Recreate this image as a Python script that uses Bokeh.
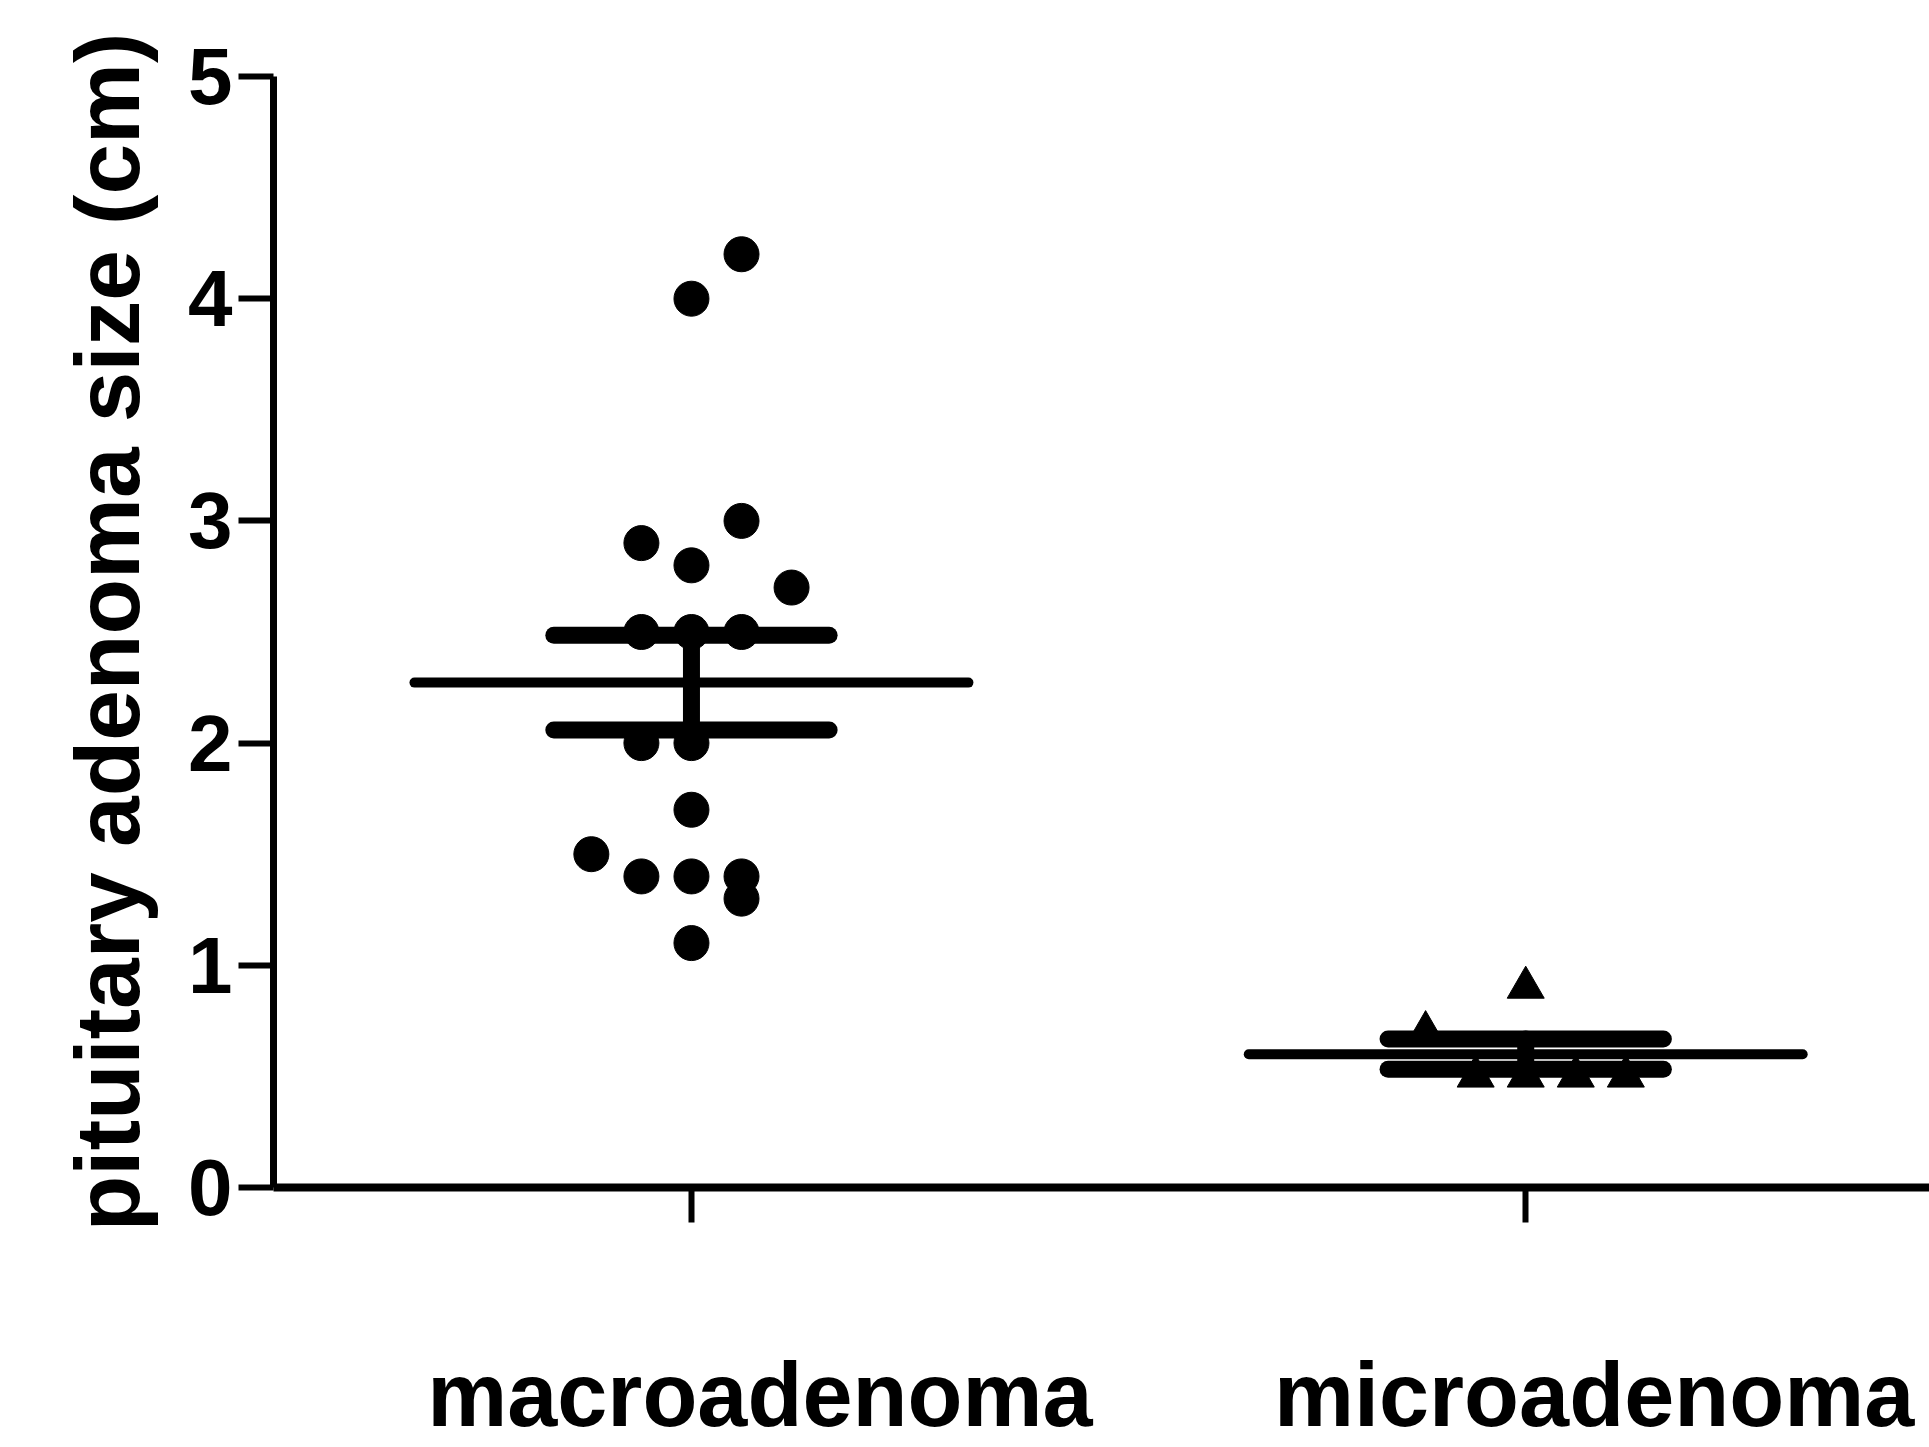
import numpy as np
from bokeh.plotting import figure
from bokeh.models import Range1d, FixedTicker, LinearAxis
from bokeh.embed import file_html
from bokeh.resources import INLINE

# ---- data ----
categories = ["macroadenoma", "microadenoma"]
macro_sizes = [4.2, 4.0, 3.0, 2.9, 2.8, 2.7, 2.5, 2.5, 2.5, 2.0, 2.0, 1.7,
               1.5, 1.4, 1.4, 1.4, 1.3, 1.1]
micro_sizes = [0.9, 0.7, 0.5, 0.5, 0.5, 0.5]
y_ticks = [0, 1, 2, 3, 4, 5]
y_label = "pituitary adenoma size (cm)"

# ---- layout: column slot of each dot in the column scatter ----
macro_slots = [1, 0, 1, -1, 0, 2, -1, 0, 1, -1, 0, 0, -2, -1, 0, 1, 1, 0]
micro_slots = [0, -2, -1, 0, 1, 2]
SLOT_STEP = 0.06
MEAN_HALF = 0.332
CAP_HALF = 0.165
LABEL_DX = 0.082
X0, X1 = -0.501, 1.484
FONT = "Liberation Sans"

p = figure(width=1929, height=1447,
           x_range=Range1d(X0, X1), y_range=Range1d(0, 5),
           output_backend="svg", toolbar_location=None,
           min_border_left=273, min_border_right=0,
           min_border_top=76, min_border_bottom=260)
p.outline_line_color = None
p.grid.visible = False
p.background_fill_color = "white"
p.border_fill_color = "white"

# y axis
ya = p.yaxis[0]
ya.ticker = FixedTicker(ticks=y_ticks)
ya.axis_line_width = 7
ya.axis_line_color = "black"
ya.major_tick_line_width = 6
ya.major_tick_line_color = "black"
ya.major_tick_out = 35
ya.major_tick_in = 0
ya.minor_tick_line_color = None
ya.major_label_standoff = 6
ya.major_label_text_font = FONT
ya.major_label_text_font_style = "bold"
ya.major_label_text_font_size = "80px"
ya.major_label_text_color = "black"
ya.axis_label = y_label
ya.axis_label_text_font = FONT
ya.axis_label_text_font_style = "bold"
ya.axis_label_text_font_size = "91px"
ya.axis_label_text_color = "black"
ya.axis_label_standoff = 27

# x axis (ticks only)
xa = p.xaxis[0]
xa.ticker = FixedTicker(ticks=list(range(len(categories))))
xa.major_label_overrides = {i: "" for i in range(len(categories))}
xa.major_label_text_font_size = "1px"
xa.major_label_standoff = 0
xa.axis_line_width = 8
xa.axis_line_color = "black"
xa.major_tick_line_width = 6
xa.major_tick_line_color = "black"
xa.major_tick_out = 35
xa.major_tick_in = 0
xa.minor_tick_line_color = None

# category labels on a second, shifted axis
p.extra_x_ranges = {"labels": Range1d(X0 - LABEL_DX, X1 - LABEL_DX)}
la = LinearAxis(x_range_name="labels",
                ticker=FixedTicker(ticks=list(range(len(categories)))),
                major_label_overrides={i: c for i, c in enumerate(categories)})
la.axis_line_color = None
la.major_tick_line_color = None
la.minor_tick_line_color = None
la.major_label_standoff = 116
la.major_label_text_font = FONT
la.major_label_text_font_style = "bold"
la.major_label_text_font_size = "90px"
la.major_label_text_color = "black"
p.add_layout(la, "below")

groups = [(macro_sizes, macro_slots, "circle", 35),
          (micro_sizes, micro_slots, "triangle", 37)]

for i, (vals, slots, marker, size) in enumerate(groups):
    vals = np.array(vals, dtype=float)
    xs = [i + s * SLOT_STEP for s in slots]
    p.scatter(xs, list(vals), marker=marker, size=size,
              fill_color="black", line_color="black")
    mean = vals.mean()
    sem = vals.std(ddof=1) / np.sqrt(len(vals))
    # mean line
    p.segment(x0=[i - MEAN_HALF], x1=[i + MEAN_HALF], y0=[mean], y1=[mean],
              line_width=10, line_color="black", line_cap="round")
    # SEM bars
    p.segment(x0=[i - CAP_HALF, i - CAP_HALF, i],
              x1=[i + CAP_HALF, i + CAP_HALF, i],
              y0=[mean + sem, mean - sem, mean - sem],
              y1=[mean + sem, mean - sem, mean + sem],
              line_width=17, line_color="black", line_cap="round")

open("out.html", "w").write(file_html(p, INLINE))
